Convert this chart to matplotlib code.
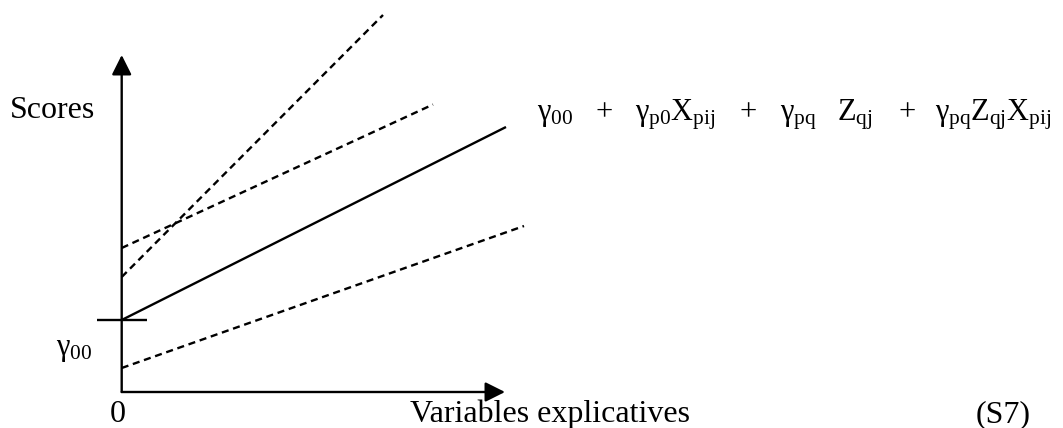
import matplotlib
matplotlib.use("Agg")
import matplotlib.pyplot as plt

plt.rcParams['font.family'] = ['Liberation Serif', 'DejaVu Serif']
plt.rcParams['mathtext.fontset'] = 'custom'
plt.rcParams['mathtext.rm'] = 'Liberation Serif'
plt.rcParams['mathtext.it'] = 'Liberation Serif'
plt.rcParams['mathtext.bf'] = 'Liberation Serif:bold'

# ---- data (abstract diagram units; origin of the axes = (0, 0)) ----
solid_x = [0.0, 38.43]
solid_y = [7.2, 26.5]
dashed_lines_x = [[0.0, 26.13], [0.0, 31.13], [0.0, 40.23]]
dashed_lines_y = [[11.5, 37.7], [14.4, 28.75], [2.4, 16.6]]
gamma00_level = 7.2
tick_x = [-2.47, 2.53]
x_axis_end = 38.33
y_axis_end = 33.7

W, H = 1063, 428
ORIGIN_PX = (121.7, 392.0)
fig = plt.figure(figsize=(W / 100, H / 100), dpi=100)
ax = fig.add_axes([0, 0, 1, 1])
ax.set_xlim(-ORIGIN_PX[0] / 10, (W - ORIGIN_PX[0]) / 10)
ax.set_ylim(-(H - ORIGIN_PX[1]) / 10, ORIGIN_PX[1] / 10)
ax.axis('off')

lw = 1.7
# axes arrows
arrow_kw = dict(arrowstyle='-|>,head_length=0.6,head_width=0.3', lw=lw,
                color='black', shrinkA=0, shrinkB=0, mutation_scale=20)
ax.annotate('', xy=(0, y_axis_end), xytext=(0, 0), arrowprops=arrow_kw)
ax.annotate('', xy=(x_axis_end, 0), xytext=(0, 0), arrowprops=arrow_kw)

# tick at gamma00
ax.plot(tick_x, [gamma00_level, gamma00_level], color='black', lw=lw,
        solid_capstyle='butt')

# solid mean line
ax.plot(solid_x, solid_y, color='black', lw=lw, solid_capstyle='butt')

# dashed group lines
for xs, ys in zip(dashed_lines_x, dashed_lines_y):
    ax.plot(xs, ys, color='black', lw=lw, linestyle=(0, (3.0, 2.0)),
            dash_capstyle='butt')

def ftext(x, y, s, size, **kw):
    fig.text(x / W, 1 - y / H, s, fontsize=size, ha='left', va='baseline', **kw)

big = 23
mid = 22
ftext(10, 118, 'Scores', big)
ftext(56, 355, r'$\gamma_{00}$', mid)
fig.text(118 / W, 1 - 422 / H, '0', fontsize=big, ha='center', va='baseline')
ftext(410, 422, 'Variables explicatives', big)
ftext(976, 422, '(S7)', big)

# formula pieces
fy = 120
ftext(537, fy, r'$\gamma_{00}$', mid)
fig.text(604 / W, 1 - fy / H, '+', fontsize=mid, ha='center', va='baseline')
ftext(635, fy, r'$\gamma_{p0}X_{pij}$', mid)
fig.text(748 / W, 1 - fy / H, '+', fontsize=mid, ha='center', va='baseline')
ftext(780, fy, r'$\gamma_{pq}$', mid)
ftext(837, fy, r'$Z_{qj}$', mid)
fig.text(907 / W, 1 - fy / H, '+', fontsize=mid, ha='center', va='baseline')
ftext(935, fy, r'$\gamma_{pq}Z_{qj}X_{pij}$', mid)

fig.savefig('out.png', dpi=100)
